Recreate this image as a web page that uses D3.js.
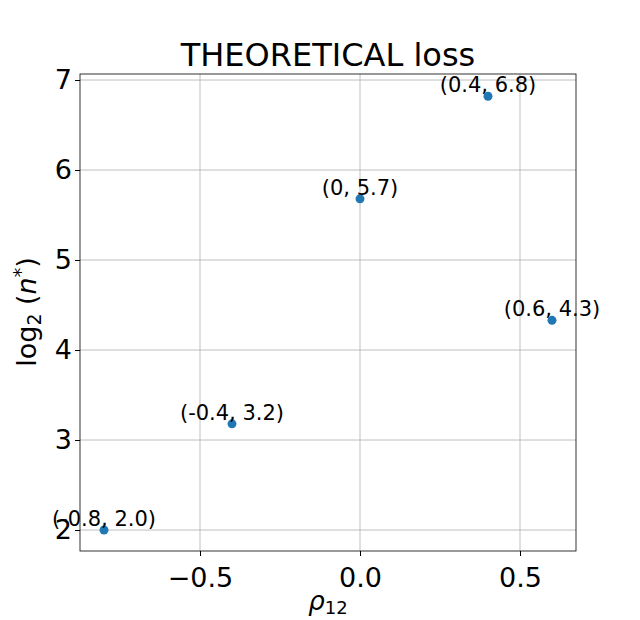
<!DOCTYPE html>
<html><head><meta charset="utf-8">
<script src="https://cdn.jsdelivr.net/npm/d3@7"></script>
<style>body{margin:0;background:#fff}text{font-family:"DejaVu Sans",sans-serif}</style>
</head><body><svg id="c" width="640" height="620"></svg>
<script>
const rho = [-0.8, -0.4, 0, 0.4, 0.6];
const logn = [2.0, 3.18, 5.68, 6.82, 4.33];
const labels = ["(-0.8, 2.0)", "(-0.4, 3.2)", "(0, 5.7)", "(0.4, 6.8)", "(0.6, 4.3)"];
const xTicks = [-0.5, 0.0, 0.5];
const yTicks = [2, 3, 4, 5, 6, 7];

const svg = d3.select("#c");
const L=80,R=576,T=74,B=551;
const x = d3.scaleLinear().domain([-0.875,0.675]).range([L,R]);
const y = d3.scaleLinear().domain([1.767,7.067]).range([B,T]);
const g = svg.append("g");
xTicks.forEach(t=>g.append("line").attr("x1",x(t)).attr("x2",x(t)).attr("y1",T).attr("y2",B).attr("stroke","#b0b0b0").attr("stroke-width",0.8));
yTicks.forEach(t=>g.append("line").attr("y1",y(t)).attr("y2",y(t)).attr("x1",L).attr("x2",R).attr("stroke","#b0b0b0").attr("stroke-width",0.8));
const xa = svg.append("g").attr("transform",`translate(0,${B})`).call(d3.axisBottom(x).tickValues(xTicks).tickFormat(d=>d.toFixed(1).replace("-","−")).tickSizeOuter(0).tickSize(5));
const ya = svg.append("g").attr("transform",`translate(${L},0)`).call(d3.axisLeft(y).tickValues(yTicks).tickFormat(d3.format("d")).tickSizeOuter(0).tickSize(5));
[xa,ya].forEach(a=>{a.select(".domain").remove();a.selectAll("text").attr("font-size",27).attr("fill","#000").attr("font-family","DejaVu Sans");a.selectAll("line").attr("stroke","#000");});
xa.selectAll("text").attr("dy","1.05em");
svg.append("rect").attr("x",L).attr("y",T).attr("width",R-L).attr("height",B-T).attr("fill","none").attr("stroke","#000").attr("stroke-width",0.8);
svg.selectAll("circle").data(rho).enter().append("circle").attr("cx",d=>x(d)).attr("cy",(d,i)=>y(logn[i])).attr("r",4.5).attr("fill","#1f77b4");
svg.selectAll(".lab").data(rho).enter().append("text").attr("x",d=>x(d)).attr("y",(d,i)=>y(logn[i])-4).attr("text-anchor","middle").attr("font-size",21).text((d,i)=>labels[i]);
svg.append("text").attr("x",328).attr("y",66).attr("text-anchor","middle").attr("font-size",32).text("THEORETICAL loss");
svg.append("text").attr("x",328).attr("y",610).attr("text-anchor","middle").attr("font-size",26).html('<tspan font-style="italic">ρ</tspan><tspan font-size="18" dy="4">12</tspan>');
svg.append("text").attr("transform","translate(36,312) rotate(-90)").attr("text-anchor","middle").attr("font-size",27).html('log<tspan font-size="19" dy="5">2</tspan><tspan dy="-5"> (</tspan><tspan font-style="italic">n</tspan><tspan font-size="19" dy="-9">*</tspan><tspan dy="9">)</tspan>');
</script></body></html>
